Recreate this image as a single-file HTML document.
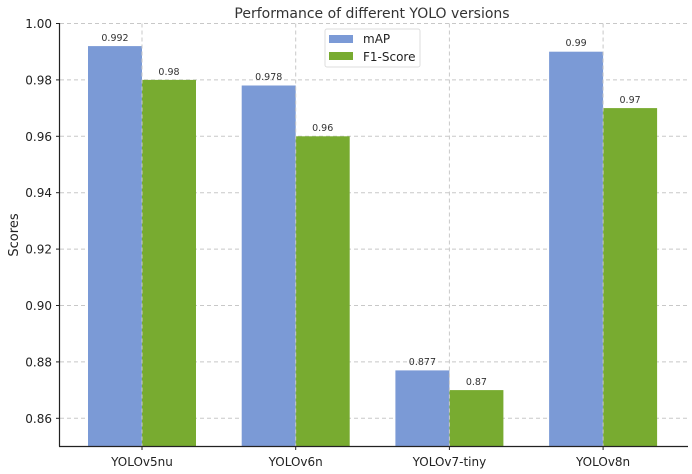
<!DOCTYPE html>
<html><head><meta charset="utf-8"><style>
html,body{margin:0;padding:0;background:#fff;}
svg{display:block;font-family:"DejaVu Sans","Liberation Sans",sans-serif;}
</style></head><body>
<svg width="692" height="474" viewBox="0 0 692 474" xmlns="http://www.w3.org/2000/svg">
<rect width="692" height="474" fill="#fff"/>
<g stroke="#c8c8c8" stroke-width="1" stroke-dasharray="4,3">
<line x1="60" y1="23.5" x2="688" y2="23.5"/>
<line x1="60" y1="79.9" x2="688" y2="79.9"/>
<line x1="60" y1="136.3" x2="688" y2="136.3"/>
<line x1="60" y1="192.7" x2="688" y2="192.7"/>
<line x1="60" y1="249.1" x2="688" y2="249.1"/>
<line x1="60" y1="305.5" x2="688" y2="305.5"/>
<line x1="60" y1="361.9" x2="688" y2="361.9"/>
<line x1="60" y1="418.3" x2="688" y2="418.3"/>
</g>
<g fill="#7b9ad6">
<rect x="88" y="46.1" width="54" height="399.9"/>
<rect x="241.7" y="85.5" width="54" height="360.5"/>
<rect x="395.4" y="370.4" width="54" height="75.6"/>
<rect x="549.1" y="51.7" width="54" height="394.3"/>
</g>
<g fill="#78ab30">
<rect x="142" y="79.9" width="54" height="366.1"/>
<rect x="295.7" y="136.3" width="54" height="309.7"/>
<rect x="449.4" y="390.1" width="54" height="55.9"/>
<rect x="603.1" y="108.1" width="54" height="337.9"/>
</g>
<g stroke="#c8c8c8" stroke-width="1" stroke-dasharray="4,3">
<line x1="142" y1="23.5" x2="142" y2="446"/>
<line x1="295.7" y1="23.5" x2="295.7" y2="446"/>
<line x1="449.4" y1="23.5" x2="449.4" y2="446"/>
<line x1="603.1" y1="23.5" x2="603.1" y2="446"/>
</g>
<g stroke="#222" stroke-width="1.2">
<line x1="59.5" y1="23" x2="59.5" y2="446.5"/>
<line x1="59" y1="446.5" x2="688" y2="446.5"/>
</g>
<g stroke="#222" stroke-width="1">
<line x1="56" y1="23.5" x2="60" y2="23.5"/><line x1="56" y1="79.9" x2="60" y2="79.9"/>
<line x1="56" y1="136.3" x2="60" y2="136.3"/><line x1="56" y1="192.7" x2="60" y2="192.7"/>
<line x1="56" y1="249.1" x2="60" y2="249.1"/><line x1="56" y1="305.5" x2="60" y2="305.5"/>
<line x1="56" y1="361.9" x2="60" y2="361.9"/><line x1="56" y1="418.3" x2="60" y2="418.3"/>
<line x1="142" y1="446" x2="142" y2="450"/><line x1="295.7" y1="446" x2="295.7" y2="450"/>
<line x1="449.4" y1="446" x2="449.4" y2="450"/><line x1="603.1" y1="446" x2="603.1" y2="450"/>
</g>
<g font-size="12" fill="#222" text-anchor="end">
<text x="52" y="28">1.00</text><text x="52" y="84.4">0.98</text>
<text x="52" y="140.8">0.96</text><text x="52" y="197.2">0.94</text>
<text x="52" y="253.6">0.92</text><text x="52" y="310">0.90</text>
<text x="52" y="366.4">0.88</text><text x="52" y="422.8">0.86</text>
</g>
<g font-size="12" fill="#222" text-anchor="middle">
<text x="142" y="466">YOLOv5nu</text><text x="295.7" y="466">YOLOv6n</text>
<text x="449.4" y="466">YOLOv7-tiny</text><text x="603.1" y="466">YOLOv8n</text>
</g>
<text x="18" y="235" font-size="13" fill="#222" text-anchor="middle" transform="rotate(-90 18 235)">Scores</text>
<text x="372" y="18" font-size="14" fill="#333" text-anchor="middle">Performance of different YOLO versions</text>
<g font-size="9.5" fill="#333" text-anchor="middle">
<text x="115" y="41">0.992</text><text x="169" y="75">0.98</text>
<text x="268.7" y="80">0.978</text><text x="322.7" y="131">0.96</text>
<text x="422.4" y="365">0.877</text><text x="476.4" y="385">0.87</text>
<text x="576.1" y="46">0.99</text><text x="630.1" y="103">0.97</text>
</g>
<rect x="325" y="29" width="95" height="38" fill="#fff" fill-opacity="0.85" stroke="#ddd" stroke-width="1" rx="2"/>
<rect x="329" y="35" width="24" height="8" fill="#7b9ad6"/>
<rect x="329" y="52" width="24" height="8" fill="#78ab30"/>
<g font-size="12" fill="#222">
<text x="363" y="43">mAP</text><text x="363" y="61">F1-Score</text>
</g>
</svg>
</body></html>
